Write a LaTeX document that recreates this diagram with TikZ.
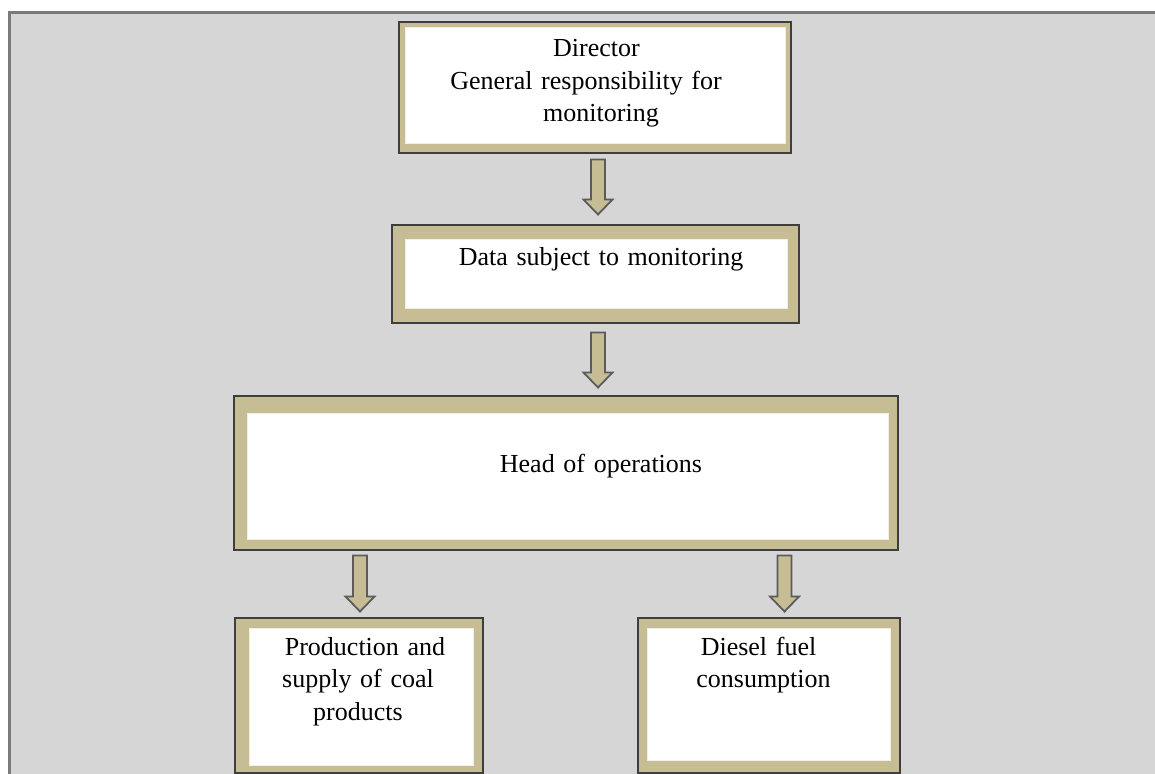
\documentclass[tikz,border=0pt]{standalone}
\usepackage{fontspec}
\setmainfont{Liberation Serif}
\usepackage{xcolor}
\usetikzlibrary{calc,backgrounds}

\definecolor{khaki}{RGB}{198,189,148}
\definecolor{panel}{RGB}{214,214,214}
\definecolor{rim}{RGB}{62,62,62}

\tikzset{
 box/.style={fill=white, draw=khaki!25, line width=1pt, inner sep=0pt, align=center,
  font=\fontsize{26}{32.5}\selectfont},
 band/.style={fill=khaki, draw=rim, line width=2pt},
 barrow/.style={fill=khaki, draw=rim!85, line width=1.8pt},
}

% band round a box: node, left, top, right, bottom
\newcommand{\band}[5]{%
 \draw[band] ($(#1.north west)+(-#2,-#3)$) rectangle ($(#1.south east)+(#4,#5)$);}

% hollow block arrow: start, tip
\newcommand{\blockarrow}[2]{%
 \draw[barrow] let \p1=(#1), \p2=(#2) in
  (\x1-7pt,\y1) -- (\x1+7pt,\y1) -- (\x1+7pt,\y2+15pt) -- (\x1+14.5pt,\y2+15pt)
  -- (\x1,\y2) -- (\x1-14.5pt,\y2+15pt) -- (\x1-7pt,\y2+15pt) -- cycle;}

% blank space at the end of a line
\newcommand{\tailgap}[1]{\hspace*{#1}\mbox{}}

\begin{document}
\begin{tikzpicture}[x=1pt,y=-1pt]
\useasboundingbox (0,0) rectangle (1155,773);

%boxes
\node[box, text width=380pt, text height=29pt, text depth=86pt] (director) at (595,85.5)
 {\hspace*{3pt}Director\\General responsibility for\tailgap{18pt}\\\hspace*{12pt}monitoring};
\node[box, text width=382pt, text height=26pt, text depth=43pt] (data) at (596,273.5)
 {\hspace*{10pt}Data subject to monitoring};
\node[box, text width=641pt, text height=59pt, text depth=67pt] (head) at (567.5,476)
 {\hspace*{67pt}Head of operations};
\node[box, text width=224pt, text height=27pt, text depth=110pt] (coal) at (361,696.5)
 {\hspace*{8pt}Production and\\supply of coal\tailgap{6pt}\\products\tailgap{6pt}};
\node[box, text width=243pt, text height=27pt, text depth=105pt] (diesel) at (768.5,694)
 {Diesel fuel\tailgap{20pt}\\consumption\tailgap{10pt}};

%arrows
\blockarrow{$(director.south)+(3,16)$}{$(data.north)+(2,-24)$}
\blockarrow{$(data.south)+(2,24)$}{$(head.north)+(0,-25)$}
\blockarrow{$(head.south -| coal.north)+(-1,16)$}{$(coal.north)+(-1,-16)$}
\blockarrow{$(head.south -| diesel.north)+(16,16)$}{$(diesel.north)+(16,-16)$}

\begin{scope}[on background layer]
 %panel
 \fill[panel] (9,13) rectangle (1170,790);
 \draw[line width=3pt, draw=black!52] (9,790) -- (9,13) -- (1170,13);
 %bands
 \band{director}{6}{5}{5}{9}
 \band{data}{13}{14}{11}{14}
 \band{head}{13}{17}{9}{10}
 \band{coal}{14}{10}{9}{7}
 \band{diesel}{9}{10}{9}{12}
\end{scope}

\end{tikzpicture}
\end{document}
